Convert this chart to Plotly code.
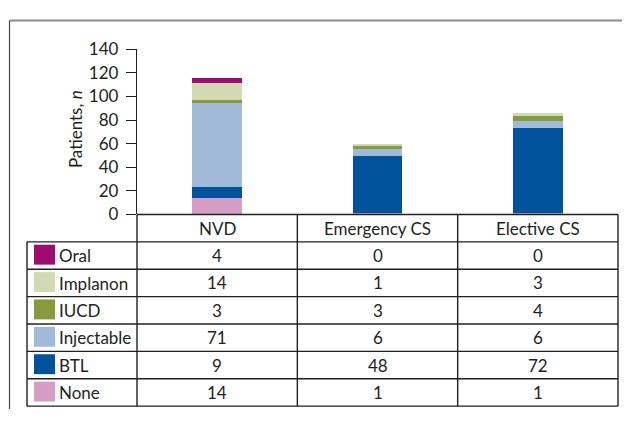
import plotly.graph_objects as go

categories = ["NVD", "Emergency CS", "Elective CS"]
methods = ["Oral", "Implanon", "IUCD", "Injectable", "BTL", "None"]  # table order (top to bottom)
oral = [4, 0, 0]
implanon = [14, 1, 3]
iucd = [3, 3, 4]
injectable = [71, 6, 6]
btl = [9, 48, 72]
none_ = [14, 1, 1]
y_ticks = [0, 20, 40, 60, 80, 100, 120, 140]

values = {"Oral": oral, "Implanon": implanon, "IUCD": iucd,
          "Injectable": injectable, "BTL": btl, "None": none_}
colors = {"Oral": "#9c0d6f", "Implanon": "#d2dab3", "IUCD": "#869a3e",
          "Injectable": "#a0bad8", "BTL": "#00529b", "None": "#d69dc4"}

# page body has an 8px margin on every side; size the figure so the page fits the window
OFF = 8
W, H = 630 - 2 * OFF, 427 - 2 * OFF
FONT = "Lato"
TXT = "#231f20"
FS = 17

def X(px):
    return (px - OFF) / W

def Y(py):
    return 1 - (py - OFF) / H

# layout geometry (pixels in the window)
ax_l, ax_r = 137, 618
y0_px, y140_px = 214, 40
tbl_l = 27
row_h = (416 - 214) / 7.0

fig = go.Figure()
for m in reversed(methods):  # stack bottom to top: None ... Oral
    fig.add_trace(go.Bar(x=categories, y=values[m], name=m,
                         marker=dict(color=colors[m], line=dict(width=0)),
                         width=0.31, showlegend=False))

shapes = []
def line(x0, y0, x1, y1, color="#231f20", w=1.4):
    shapes.append(dict(type="line", xref="paper", yref="paper",
                       x0=X(x0), y0=Y(y0), x1=X(x1), y1=Y(y1),
                       line=dict(color=color, width=w)))

# outer frame (top & left)
line(9.5, 9.5, 622, 9.5, color="#8c8c8c", w=2)
line(9.5, 9.5, 9.5, 419, color="#444444", w=1.2)

ncat = len(categories)
col_w = (ax_r - ax_l) / ncat
col_x = [ax_l + i * col_w for i in range(ncat + 1)]

# header row
line(ax_l, y0_px, ax_r, y0_px)
# table rows horizontals
for r in range(1, 8):
    yy = y0_px + r * row_h
    line(tbl_l, yy, ax_r, yy)
# verticals
line(tbl_l, y0_px + row_h, tbl_l, y0_px + 7 * row_h)
for cx in col_x:
    line(cx, y0_px, cx, y0_px + 7 * row_h)

annotations = []
# header category labels
for i, c in enumerate(categories):
    annotations.append(dict(x=i, xref="x", y=Y(y0_px + row_h / 2), yref="paper",
                            text=c, showarrow=False, xanchor="center", yanchor="middle",
                            font=dict(family=FONT, size=FS, color=TXT)))
# rows
for r, m in enumerate(methods):
    top = y0_px + (r + 1) * row_h
    bot = top + row_h
    # swatch
    shapes.append(dict(type="rect", xref="paper", yref="paper",
                       x0=X(34), x1=X(55), y0=Y(top + 3), y1=Y(top + 24),
                       fillcolor=colors[m], line=dict(width=0)))
    annotations.append(dict(x=X(57), xref="paper", y=Y(bot - 1), yref="paper",
                            text=m, showarrow=False, xanchor="left", yanchor="bottom",
                            font=dict(family=FONT, size=FS, color=TXT)))
    for i in range(ncat):
        annotations.append(dict(x=i, xref="x", y=Y(top + row_h / 2), yref="paper",
                                text=str(values[m][i]), showarrow=False,
                                xanchor="center", yanchor="middle",
                                font=dict(family=FONT, size=FS, color=TXT)))

# y-axis title
annotations.append(dict(x=X(75), xref="paper", y=Y(124), yref="paper",
                        text="Patients, <i>n</i>", showarrow=False, textangle=-90,
                        xanchor="center", yanchor="middle",
                        font=dict(family=FONT, size=FS, color=TXT)))

fig.update_layout(
    width=W, height=H,
    margin=dict(l=0, r=0, t=0, b=0),
    paper_bgcolor="white", plot_bgcolor="white",
    barmode="stack", bargap=0,
    font=dict(family=FONT, size=FS, color=TXT),
    xaxis=dict(domain=[X(ax_l), X(ax_r)], range=[-0.5, 2.5],
               showticklabels=False, showgrid=False, zeroline=False,
               showline=False, ticks=""),
    yaxis=dict(domain=[Y(y0_px), Y(y140_px)], range=[0, 140],
               tickvals=y_ticks, ticks="outside", ticklen=10, tickwidth=1.3,
               tickcolor=TXT, showline=True, linecolor=TXT, linewidth=1.4,
               showgrid=False, zeroline=False, ticklabelstandoff=4,
               tickfont=dict(family=FONT, size=FS, color=TXT)),
    shapes=shapes,
    annotations=annotations,
)

fig.write_html("out.html")
